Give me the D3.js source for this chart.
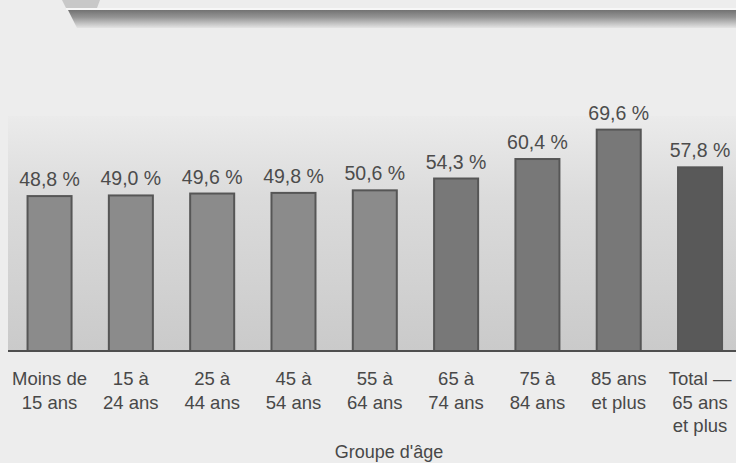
<!DOCTYPE html>
<html><head><meta charset="utf-8">
<script src="https://cdn.jsdelivr.net/npm/d3@7"></script>
<style>
html,body{margin:0;padding:0;background:#ededed;}
svg{display:block;}
text{font-family:"Liberation Sans", Arial, sans-serif;}
</style></head>
<body>
<svg id="chart" width="736" height="463"></svg>
<script>
const categories = ["Moins de 15 ans","15 à 24 ans","25 à 44 ans","45 à 54 ans","55 à 64 ans","65 à 74 ans","75 à 84 ans","85 ans et plus","Total — 65 ans et plus"];
const tickLines = [["Moins de","15 ans"],["15 à","24 ans"],["25 à","44 ans"],["45 à","54 ans"],["55 à","64 ans"],["65 à","74 ans"],["75 à","84 ans"],["85 ans","et plus"],["Total —","65 ans","et plus"]];
const values = [48.8, 49.0, 49.6, 49.8, 50.6, 54.3, 60.4, 69.6, 57.8];
const valueLabels = ["48,8 %","49,0 %","49,6 %","49,8 %","50,6 %","54,3 %","60,4 %","69,6 %","57,8 %"];
const groups = ["young","young","young","young","young","old","old","old","total"];
const axisTitle = "Groupe d'âge";

const svg = d3.select("#chart");
const defs = svg.append("defs");

const gBan = defs.append("linearGradient").attr("id","ban").attr("x1",0).attr("x2",0).attr("y1",0).attr("y2",1);
gBan.append("stop").attr("offset","0%").attr("stop-color","#727272");
gBan.append("stop").attr("offset","40%").attr("stop-color","#949494");
gBan.append("stop").attr("offset","100%").attr("stop-color","#e4e4e4");

const gPan = defs.append("linearGradient").attr("id","pan").attr("x1",0).attr("x2",0).attr("y1",0).attr("y2",1);
gPan.append("stop").attr("offset","0%").attr("stop-color","#ebebeb");
gPan.append("stop").attr("offset","35%").attr("stop-color","#dbdbdb");
gPan.append("stop").attr("offset","100%").attr("stop-color","#cacaca");

// decorative banner
svg.append("path").attr("d","M62,0 L100,0 L97,8 L66,8 Z").attr("fill","#c8c8c8");
svg.append("line").attr("x1",66).attr("x2",736).attr("y1",9).attr("y2",9).attr("stroke","#fafafa").attr("stroke-width",1.5);
svg.append("path").attr("d","M68,10 L736,10 L736,28 L77,28 Z").attr("fill","url(#ban)");

const base = 351;
const x = d3.scaleBand().domain(categories).range([8.9, 740.7]).paddingInner(0.434).paddingOuter(0.217);
const y = d3.scaleLinear().domain([0, 100]).range([base, base - 319.5]);

// plot panel
svg.append("rect").attr("x",8).attr("y",116).attr("width",728).attr("height",base-116).attr("fill","url(#pan)");

const fills = {young:"#8b8b8b", old:"#787878", total:"#595959"};

svg.selectAll("rect.bar").data(values).join("rect").attr("class","bar")
  .attr("x",(d,i)=>x(categories[i])+1)
  .attr("width",x.bandwidth()-2)
  .attr("y",d=>y(d)+1)
  .attr("height",d=>base-y(d)-1)
  .attr("fill",(d,i)=>fills[groups[i]])
  .attr("stroke","#565656").attr("stroke-width",2);

svg.selectAll("text.val").data(values).join("text").attr("class","val")
  .attr("x",(d,i)=>x(categories[i])+x.bandwidth()/2)
  .attr("y",d=>y(d)-9)
  .attr("text-anchor","middle")
  .attr("font-size",19.5).attr("fill","#4c4c4c")
  .text((d,i)=>valueLabels[i]);

// baseline axis
const axis = d3.axisBottom(x).tickSize(0).tickFormat("");
const ag = svg.append("g").attr("transform",`translate(0,${base})`).call(axis);
ag.select(".domain").remove();
svg.append("line").attr("x1",8).attr("x2",736).attr("y1",base).attr("y2",base).attr("stroke","#4f4f4f").attr("stroke-width",2.2);

// tick labels
categories.forEach((c,i)=>{
  const t = svg.append("text").attr("text-anchor","middle").attr("font-size",18.5).attr("fill","#484848")
    .attr("x",x(c)+x.bandwidth()/2).attr("y",385);
  tickLines[i].forEach((ln,j)=>{
    t.append("tspan").attr("x",x(c)+x.bandwidth()/2).attr("y",385+j*23.5).text(ln);
  });
});

svg.append("text").attr("x",389).attr("y",458).attr("text-anchor","middle").attr("font-size",18).attr("fill","#484848").text(axisTitle);
</script>
</body></html>
